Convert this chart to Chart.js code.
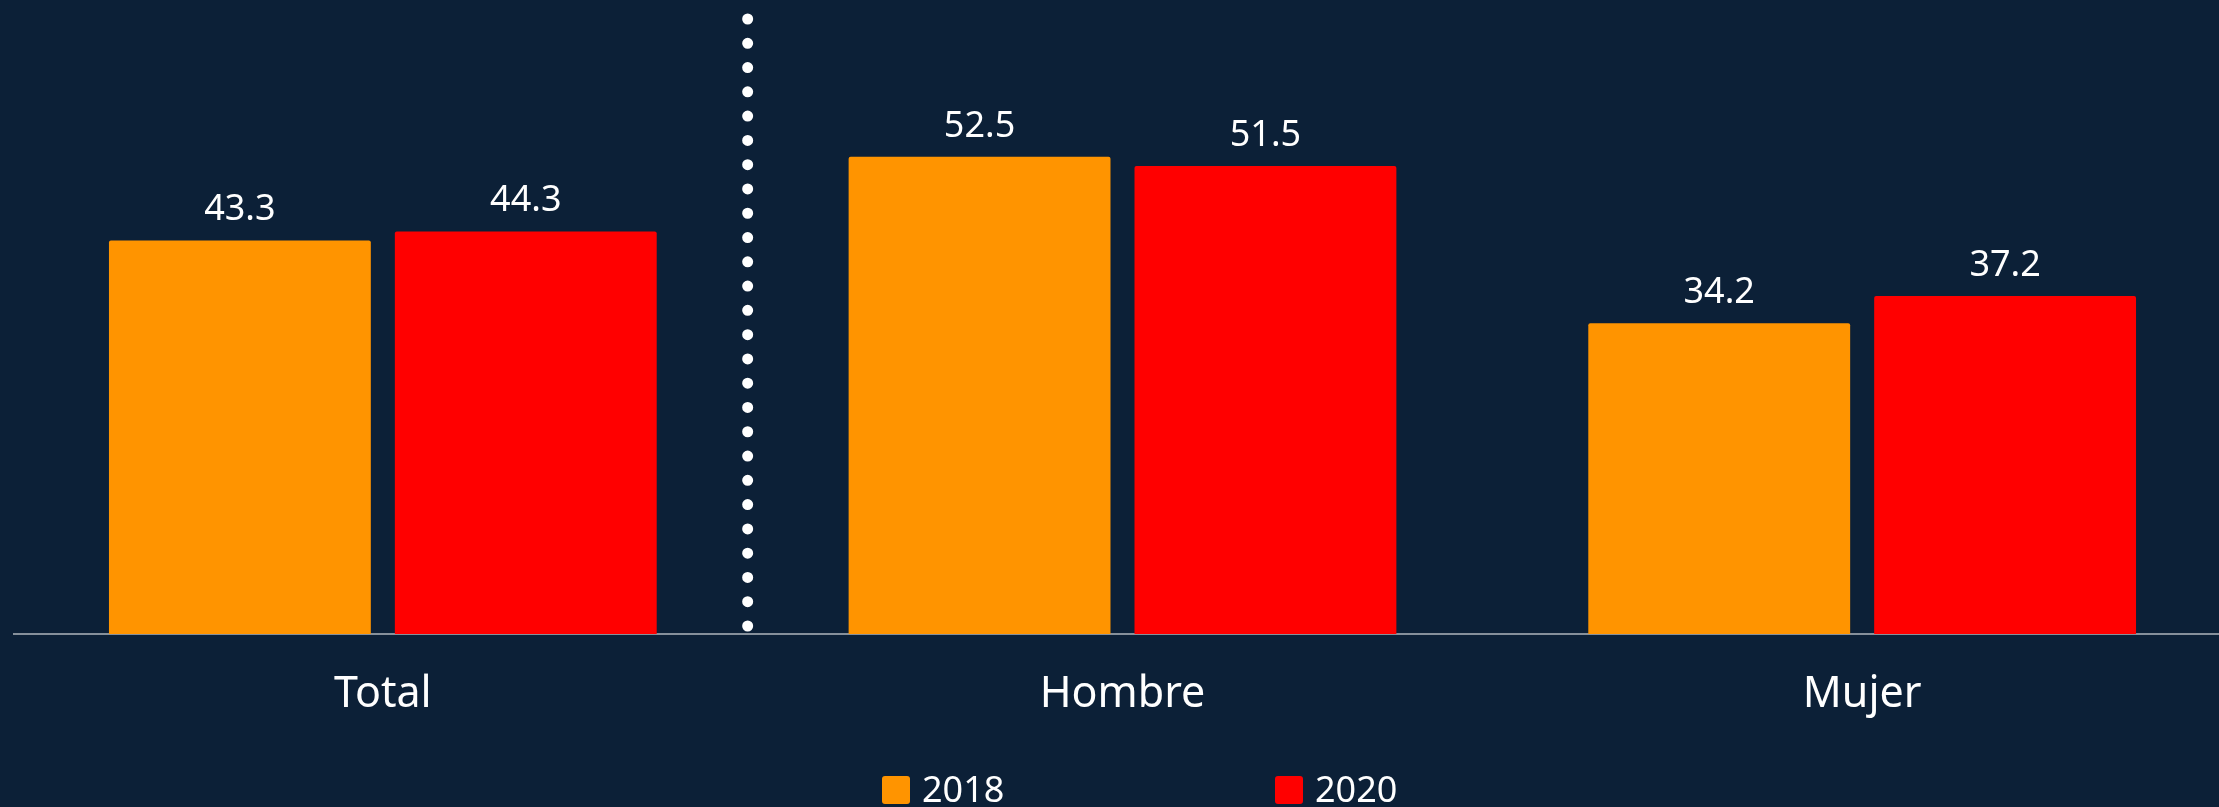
<!DOCTYPE html>
<html>
<head>
<meta charset="utf-8">
<script src="https://cdn.jsdelivr.net/npm/chart.js@4/dist/chart.umd.min.js"></script>
<style>
  html, body {
    margin: 0;
    padding: 0;
    width: 2219px;
    height: 807px;
    overflow: hidden;
    background: #0c2037;
  }
  #wrap {
    position: absolute;
    left: 13px;
    top: 0;
    width: 2219px;
    height: 807px;
  }
  #legend {
    position: absolute;
    left: 0;
    top: 0;
    width: 2219px;
    height: 807px;
    pointer-events: none;
    font-family: "Noto Sans", sans-serif;
    color: #ffffff;
  }
  .lg-box {
    position: absolute;
    top: 776px;
    width: 28px;
    height: 28px;
    border-radius: 3px;
  }
  .lg-text {
    position: absolute;
    top: 771px;
    font-size: 36px;
    line-height: 36px;
    white-space: nowrap;
  }
</style>
</head>
<body>
<div id="wrap"><canvas id="chart" width="2219" height="807"></canvas></div>
<div id="legend"></div>
<script>
    // 数据
    const categories = ['Total', 'Hombre', 'Mujer'];
    const seriesNames = ['2018', '2020'];
    const values2018 = [43.3, 52.5, 34.2];
    const values2020 = [44.3, 51.5, 37.2];
    const seriesColors = ['#ff9400', '#ff0000'];

    const FONT = '"Noto Sans", sans-serif';

    // 柱顶数值标签
    const valueLabels = {
        id: 'valueLabels',
        afterDatasetsDraw(chart) {
            const ctx = chart.ctx;
            ctx.save();
            ctx.fillStyle = '#ffffff';
            ctx.font = '36px ' + FONT;
            ctx.textAlign = 'center';
            ctx.textBaseline = 'alphabetic';
            chart.data.datasets.forEach((ds, i) => {
                chart.getDatasetMeta(i).data.forEach((bar, j) => {
                    ctx.fillText(ds.data[j].toFixed(1), bar.x, bar.y - 20);
                });
            });
            ctx.restore();
        }
    };

    // Total 与 Hombre 之间的点状分隔线
    const dottedDivider = {
        id: 'dottedDivider',
        afterDatasetsDraw(chart) {
            const x = chart.scales.x.getPixelForValue(0.5) - 5;
            const area = chart.chartArea;
            const ctx = chart.ctx;
            ctx.save();
            ctx.strokeStyle = '#ffffff';
            ctx.lineWidth = 11;
            ctx.lineCap = 'round';
            ctx.setLineDash([0, 24.28]);
            ctx.beginPath();
            ctx.moveTo(x, area.top + 3);
            ctx.lineTo(x, area.bottom - 6);
            ctx.stroke();
            ctx.restore();
        }
    };

    const chart = new Chart(document.getElementById('chart'), {
        type: 'bar',
        data: {
            labels: categories,
            datasets: [
                {
                    label: seriesNames[0],
                    data: values2018,
                    backgroundColor: seriesColors[0],
                    borderRadius: 2,
                    borderSkipped: 'bottom',
                    barPercentage: 0.916,
                    categoryPercentage: 0.773
                },
                {
                    label: seriesNames[1],
                    data: values2020,
                    backgroundColor: seriesColors[1],
                    borderRadius: 2,
                    borderSkipped: 'bottom',
                    barPercentage: 0.916,
                    categoryPercentage: 0.773
                }
            ]
        },
        options: {
            responsive: false,
            animation: false,
            devicePixelRatio: 1,
            layout: {
                padding: { top: 16, left: 0, right: 0, bottom: 0 }
            },
            plugins: {
                legend: { display: false },
                tooltip: { enabled: false }
            },
            scales: {
                x: {
                    z: 1,
                    grid: { display: false, drawTicks: false },
                    border: {
                        display: true,
                        color: 'rgba(255,255,255,0.5)',
                        width: 2
                    },
                    ticks: {
                        color: '#ffffff',
                        font: { family: FONT, size: 43 },
                        padding: 35
                    },
                    afterFit(scale) {
                        scale.height = 173;
                    }
                },
                y: {
                    display: false,
                    min: 0,
                    max: 68
                }
            }
        },
        plugins: [valueLabels, dottedDivider]
    });

    // 图例（按数据集生成）
    const legendEl = document.getElementById('legend');
    const legendBoxX = [882, 1275];
    chart.data.datasets.forEach((ds, i) => {
        const box = document.createElement('div');
        box.className = 'lg-box';
        box.style.left = legendBoxX[i] + 'px';
        box.style.background = ds.backgroundColor;
        legendEl.appendChild(box);

        const txt = document.createElement('div');
        txt.className = 'lg-text';
        txt.style.left = (legendBoxX[i] + 40) + 'px';
        txt.textContent = ds.label;
        legendEl.appendChild(txt);
    });
</script>
</body>
</html>
